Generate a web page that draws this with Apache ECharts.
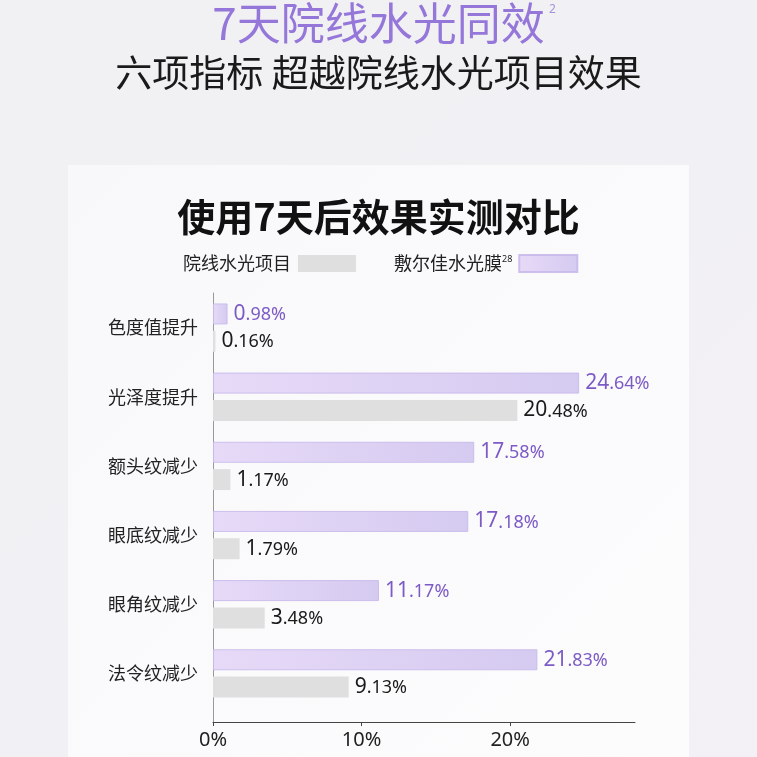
<!DOCTYPE html>
<html><head><meta charset="utf-8">
<script src="https://cdn.jsdelivr.net/npm/echarts@6/dist/echarts.min.js"></script>
<style>html,body{margin:0;padding:0;background:#eeeef1;}#c{width:757px;height:757px;}</style>
</head><body><div id="c"></div>
<script>
const categories = ['色度值提升', '光泽度提升', '额头纹减少', '眼底纹减少', '眼角纹减少', '法令纹减少'];
const clinicName = '院线水光项目';
const maskName = '敷尔佳水光膜';
const clinicValues = [0.16, 20.48, 1.17, 1.79, 3.48, 9.13];
const maskValues = [0.98, 24.64, 17.58, 17.18, 11.17, 21.83];
const mainTitle = '7天院线水光同效';
const subTitle = '六项指标 超越院线水光项目效果';
const chartTitle = '使用7天后效果实测对比';

const CJK = '"Noto Sans CJK SC", "Noto Sans", sans-serif';
const NUM = '"Noto Sans", "Noto Sans CJK SC", sans-serif';

function splitLabel(v, cls) {
  const s = v.toFixed(2);
  const i = s.indexOf('.');
  return '{' + cls + 'i|' + s.slice(0, i) + '}{' + cls + 'd|' + s.slice(i) + '%}';
}

const X_MAX = 28.4;
const chart = echarts.init(document.getElementById('c'), null, { renderer: 'canvas' });
const option = {
  animation: false,
  backgroundColor: new echarts.graphic.LinearGradient(0, 0, 1, 1, [
    { offset: 0, color: '#f1f1f3' },
    { offset: 0.6, color: '#f1f0f4' },
    { offset: 1, color: '#f4f1f6' }
  ]),
  graphic: [
    {
      type: 'rect', z: -10, silent: true,
      shape: { x: 68, y: 165, width: 621, height: 620 },
      style: { fill: new echarts.graphic.LinearGradient(0, 0, 1, 1, [
        { offset: 0, color: '#f8f8fa' }, { offset: 1, color: '#fdfcfd' }]) }
    },
    {
      type: 'text', left: 549, top: 4,
      style: { text: '2', fontSize: 12, fill: '#a891dc', fontFamily: NUM }
    }
  ],
  title: [
    {
      text: mainTitle, left: 'center', top: -4,
      textStyle: { fontFamily: CJK, fontSize: 44, fontWeight: 'normal', color: '#9577da' }
    },
    {
      text: subTitle, left: 'center', top: 49,
      textStyle: { fontFamily: CJK, fontSize: 37, fontWeight: 'normal', color: '#1a1a1a' }
    },
    {
      text: chartTitle, left: 'center', top: 193,
      textStyle: { fontFamily: CJK, fontSize: 38, fontWeight: 'bold', color: '#111' }
    }
  ],
  legend: {
    left: 183, top: 254, padding: 0,
    data: [clinicName, maskName],
    align: 'right',
    itemWidth: 58, itemHeight: 17, itemGap: 38,
    icon: 'rect',
    textStyle: {
      fontFamily: CJK, fontSize: 18, color: '#222', padding: [0, 2, 0, 0],
      rich: {
        n: { fontFamily: CJK, fontSize: 18, color: '#222' },
        s: { fontFamily: NUM, fontSize: 9, color: '#222', verticalAlign: 'top', padding: [0, 0, 9, 0] }
      }
    },
    formatter: function (name) {
      return name === maskName ? '{n|' + name + '}{s|28}' : '{n|' + name + '}';
    }
  },
  grid: [
    { left: 213, right: 122, top: 293, bottom: 49, containLabel: false },
    { left: 213, right: 122, top: 293, bottom: 35, containLabel: false }
  ],
  xAxis: [
    {
      gridIndex: 0, type: 'value', min: 0, max: X_MAX, interval: 10, show: false
    },
    {
      gridIndex: 1, type: 'value', min: 0, max: X_MAX, interval: 10,
      axisLine: { show: true, lineStyle: { color: '#444', width: 1 } },
      axisTick: { show: true, length: 4, lineStyle: { color: '#444' } },
      splitLine: { show: false },
      axisLabel: {
        formatter: '{value}%', showMaxLabel: false, color: '#222',
        fontFamily: NUM, fontSize: 20, margin: 8
      }
    }
  ],
  yAxis: [
    {
      gridIndex: 0, type: 'category', data: categories, inverse: true,
      axisLine: { show: false },
      axisTick: { show: false },
      axisLabel: { color: '#222', fontFamily: CJK, fontSize: 18, margin: 15 }
    },
    {
      gridIndex: 1, type: 'value', min: 0, max: 1,
      axisLine: { show: true, lineStyle: { color: '#999', width: 1 } },
      axisTick: { show: false }, axisLabel: { show: false }, splitLine: { show: false }
    }
  ],
  series: [
    {
      name: maskName, type: 'bar', data: maskValues,
      xAxisIndex: 0, yAxisIndex: 0,
      barWidth: 21, barGap: '30%',
      itemStyle: {
        color: new echarts.graphic.LinearGradient(0, 0, 1, 0, [
          { offset: 0, color: '#e7daf8' }, { offset: 1, color: '#d5caf0' }]),
        borderColor: 'rgba(200,185,235,0.9)', borderWidth: 1
      },
      label: {
        show: true, position: 'right', distance: 6,
        formatter: p => splitLabel(p.value, 'p'),
        rich: {
          pi: { fontFamily: NUM, fontSize: 21, color: '#7c5bc6' },
          pd: { fontFamily: NUM, fontSize: 18, color: '#7c5bc6', padding: [2, 0, 0, 0] }
        }
      }
    },
    {
      name: clinicName, type: 'bar', data: clinicValues,
      xAxisIndex: 0, yAxisIndex: 0,
      barWidth: 21,
      itemStyle: { color: '#dfdfdf' },
      label: {
        show: true, position: 'right', distance: 6,
        formatter: p => splitLabel(p.value, 'g'),
        rich: {
          gi: { fontFamily: NUM, fontSize: 21, color: '#1a1a1a' },
          gd: { fontFamily: NUM, fontSize: 18, color: '#1a1a1a', padding: [2, 0, 0, 0] }
        }
      }
    }
  ]
};
chart.setOption(option);
</script>
</body></html>
